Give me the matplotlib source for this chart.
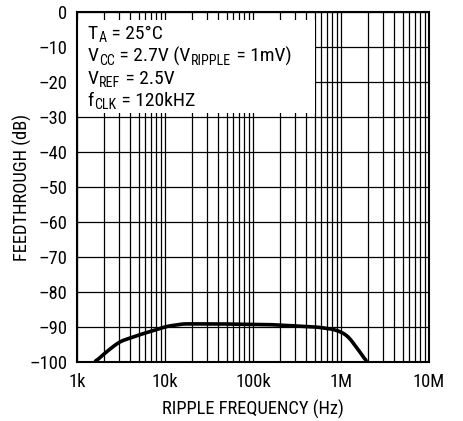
import numpy as np
import matplotlib
matplotlib.use("Agg")
from matplotlib import pyplot as plt
from matplotlib import font_manager
from matplotlib.transforms import ScaledTranslation
from matplotlib.patches import Rectangle

# prefer a narrow Helvetica-like face
names = {f.name for f in font_manager.fontManager.ttflist}
prefs = ['Liberation Sans Narrow', 'Roboto Condensed', 'Open Sans Condensed',
         'Noto Sans Condensed', 'DejaVu Sans Condensed', 'Liberation Sans']
main_font = next((p for p in prefs if p in names), 'DejaVu Sans')
fsize = 13.3
note_size = 14

plt.rcParams['font.family'] = [main_font, 'DejaVu Sans']

# curve
freq_hz = [1.6e3, 2.0e3, 2.5e3, 3.1e3, 5e3, 10.5e3, 16e3, 40e3, 155e3, 530e3, 800e3, 980e3, 1.2e6, 1.38e6, 1.65e6, 1.95e6]
feed_db = [-100, -97.8, -95.8, -94.1, -92.3, -89.8, -89.1, -89.1, -89.3, -90.0, -90.6, -91.3, -92.6, -94.6, -97.2, -100]

yticks = list(range(0, -101, -10))
xticks = [1e3, 1e4, 1e5, 1e6, 1e7]
xticklabels = ['1k', '10k', '100k', '1M', '10M']
# (text, subscript?)
notes = [[('T', 0), ('A', 1), (' = 25°C', 0)],
         [('V', 0), ('CC', 1), (' = 2.7V (V', 0), ('RIPPLE', 1), (' = 1mV)', 0)],
         [('V', 0), ('REF', 1), (' = 2.5V', 0)],
         [('f', 0), ('CLK', 1), (' = 120kHZ', 0)]]

fig = plt.figure(figsize=(4.64, 4.21), dpi=100)
ax = fig.add_axes([0.166, 0.140, 0.7586, 0.8315])

# smooth the read points a little in log space for drawing
lf = np.log10(freq_hz)
xs = np.linspace(lf[0], lf[-1], 300)
ys = np.interp(xs, lf, feed_db)
k = np.ones(9) / 9
ys_s = np.convolve(np.pad(ys, 4, mode='edge'), k, mode='valid')
ys_s[0], ys_s[-1] = feed_db[0], feed_db[-1]
ax.plot(10 ** xs, ys_s, color='black', lw=2.6, zorder=4, solid_capstyle='butt')

ax.set_xscale('log')
ax.set_xlim(1e3, 1e7)
ax.set_ylim(-100, 0)
ax.set_yticks(yticks)
ax.set_yticklabels([str(v).replace('-', '\u2013') for v in yticks])
ax.set_xticks(xticks)
ax.set_xticklabels(xticklabels)
ax.minorticks_on()
ax.yaxis.set_minor_locator(matplotlib.ticker.NullLocator())
ax.xaxis.set_minor_formatter(matplotlib.ticker.NullFormatter())
ax.grid(True, which='both', axis='x', color='black', lw=0.9)
ax.grid(True, which='major', axis='y', color='black', lw=0.9)
ax.tick_params(which='both', length=0, labelsize=fsize)
ax.tick_params(axis='x', pad=8)
ax.tick_params(axis='y', pad=7)
for s in ax.spines.values():
    s.set_linewidth(1.5)

ax.set_xlabel('RIPPLE FREQUENCY (Hz)', fontsize=fsize, labelpad=6)
ax.set_ylabel('FEEDTHROUGH (dB)', fontsize=fsize)
ax.yaxis.set_label_coords(-0.128, 0.5)

# white box behind the conditions text
ax.add_patch(Rectangle((0.003, 0.711), 0.673, 0.266, transform=ax.transAxes,
                       facecolor='white', edgecolor='none', zorder=2.5))

# conditions text, pieced together so the subscripts sit right
renderer = fig.canvas.get_renderer()
line_y = 0.9225  # baseline of first line, axes fraction
line_step = 0.0637
for i, parts in enumerate(notes):
    dx = 0.0
    for txt, sub in parts:
        off = ScaledTranslation(dx, -3.3 / 100 if sub else 0, fig.dpi_scale_trans)
        t = ax.text(0.03, line_y - i * line_step, txt, transform=ax.transAxes + off,
                    fontsize=note_size * 0.72 if sub else note_size,
                    va='baseline', ha='left', zorder=5)
        dx += t.get_window_extent(renderer).width / fig.dpi + 0.005

fig.savefig('out.png', dpi=100)
